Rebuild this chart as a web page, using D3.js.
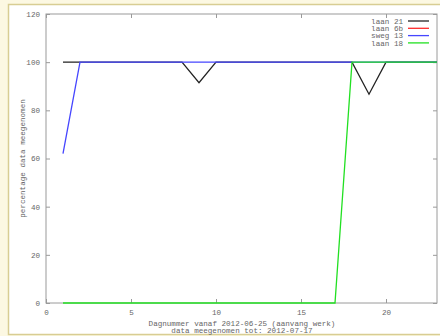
<!DOCTYPE html>
<html>
<head>
<meta charset="utf-8">
<script src="https://cdn.jsdelivr.net/npm/d3@7"></script>
<style>
  html, body { margin: 0; padding: 0; background: #fcf8e2; }
  svg { display: block; }
</style>
</head>
<body>
<script>
// Day numbers counted from 2012-06-25 (day 1) up to 2012-07-17 (day 23)
const days = [1,2,3,4,5,6,7,8,9,10,11,12,13,14,15,16,17,18,19,20,21,22,23];

// Percentage of data taken into account, per location (null = no value drawn)
const laan21 = [100,100,100,100,100,100,100,100,91.5,100,100,100,100,100,100,100,100,100,86.7,100,100,100,100];
const laan6b = [null,null,null,null,null,null,null,null,null,null,null,null,null,null,null,null,null,null,null,null,null,null,null];
const sweg13 = [62,100,100,100,100,100,100,100,100,100,100,100,100,100,100,100,100,100,100,100,100,100,100];
const laan18 = [0,0,0,0,0,0,0,0,0,0,0,0,0,0,0,0,0,100,100,100,100,100,100];

const seriesNames = ["laan 21", "laan 6b", "sweg 13", "laan 18"];
const seriesValues = [laan21, laan6b, sweg13, laan18];
const seriesColors = ["#222222", "#ff2a2a", "#4646ff", "#22e022"];

const xTicks = [0, 5, 10, 15, 20];
const yTicks = [0, 20, 40, 60, 80, 100, 120];

const W = 440, H = 336;
const font = "'Liberation Mono', 'DejaVu Sans Mono', monospace";
const textColor = "#666";
const axisColor = "#9a9a9a";

const svg = d3.select("body").append("svg")
  .attr("width", W).attr("height", H);

// White panel with a tan frame
svg.append("rect")
  .attr("x", 8.5).attr("y", 4.5)
  .attr("width", W).attr("height", 330)
  .attr("fill", "#ffffff")
  .attr("stroke", "#d8cd93")
  .attr("stroke-width", 1.5);

const plot = { left: 46, right: 437, top: 14, bottom: 303 };

const x = d3.scaleLinear().domain([0, 23]).range([plot.left, plot.right]);
const y = d3.scaleLinear().domain([0, 120]).range([plot.bottom, plot.top]);

// Axes with inward ticks, mirrored on top and right
function styleAxis(g) {
  g.select(".domain").remove();
  g.selectAll(".tick line").attr("stroke", axisColor);
  g.selectAll(".tick text")
    .attr("fill", textColor)
    .style("font-family", font)
    .style("font-size", "7.6px");
}

svg.append("g")
  .attr("transform", `translate(0,${plot.bottom})`)
  .call(d3.axisBottom(x).tickValues(xTicks).tickSize(-4).tickPadding(7))
  .call(styleAxis);

svg.append("g")
  .attr("transform", `translate(0,${plot.top})`)
  .call(d3.axisTop(x).tickValues(xTicks).tickSize(-4).tickFormat(""))
  .call(styleAxis);

svg.append("g")
  .attr("transform", `translate(${plot.left},0)`)
  .call(d3.axisLeft(y).tickValues(yTicks).tickSize(-4).tickPadding(6))
  .call(styleAxis);

svg.append("g")
  .attr("transform", `translate(${plot.right},0)`)
  .call(d3.axisRight(y).tickValues(yTicks).tickSize(-4).tickFormat(""))
  .call(styleAxis);

// Plot border
svg.append("rect")
  .attr("x", plot.left).attr("y", plot.top)
  .attr("width", plot.right - plot.left)
  .attr("height", plot.bottom - plot.top)
  .attr("fill", "none")
  .attr("stroke", axisColor)
  .attr("stroke-width", 1);

// Series lines
const line = d3.line()
  .defined(d => d.v !== null)
  .x(d => x(d.day))
  .y(d => y(d.v));

seriesValues.forEach((vals, i) => {
  const pts = days.map((day, k) => ({ day, v: vals[k] }));
  svg.append("path")
    .datum(pts)
    .attr("d", line)
    .attr("fill", "none")
    .attr("stroke", seriesColors[i])
    .attr("stroke-width", 1.3);
});

// Legend (top right)
const legend = svg.append("g");
seriesNames.forEach((name, i) => {
  const ly = 21 + i * 7.3;
  legend.append("text")
    .attr("x", 403).attr("y", ly)
    .attr("dy", "0.35em")
    .attr("text-anchor", "end")
    .attr("fill", textColor)
    .style("font-family", font)
    .style("font-size", "7.6px")
    .text(name);
  legend.append("line")
    .attr("x1", 408).attr("x2", 429)
    .attr("y1", ly).attr("y2", ly)
    .attr("stroke", seriesColors[i])
    .attr("stroke-width", 1.3);
});

// Axis titles
svg.append("text")
  .attr("transform", `translate(22,${(plot.top + plot.bottom) / 2}) rotate(-90)`)
  .attr("text-anchor", "middle")
  .attr("dy", "0.35em")
  .attr("fill", textColor)
  .style("font-family", font)
  .style("font-size", "7.6px")
  .text("percentage data meegenomen");

const xTitle = ["Dagnummer vanaf 2012-06-25 (aanvang werk)", "data meegenomen tot: 2012-07-17"];
xTitle.forEach((t, i) => {
  svg.append("text")
    .attr("x", 242).attr("y", 323 + i * 7)
    .attr("dy", "0.35em")
    .attr("text-anchor", "middle")
    .attr("fill", textColor)
    .style("font-family", font)
    .style("font-size", "7.6px")
    .text(t);
});
</script>
</body>
</html>
